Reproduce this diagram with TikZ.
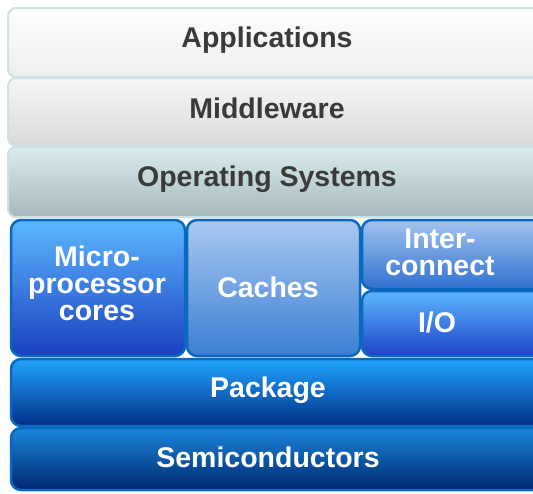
\documentclass[tikz,border=0pt]{standalone}
\usepackage{fontspec}
\setmainfont{Liberation Sans}
\begin{document}
\definecolor{greyborder}{HTML}{CFE0E3}
\definecolor{blueborder}{HTML}{0A68BE}
\definecolor{darktext}{HTML}{3A3A3A}
\begin{tikzpicture}[x=1pt,y=-1pt,
  layer/.style={draw=greyborder,line width=2pt,rounded corners=8pt,inner sep=0pt},
  bluebox/.style={draw=blueborder,line width=2.5pt,rounded corners=10pt,inner sep=0pt},
  label/.style={font=\bfseries\fontsize{28.5}{27}\selectfont,align=center,inner sep=0pt},
  dark/.style={label,text=darktext},
  light/.style={label,text=white}]
\useasboundingbox (0,0) rectangle (533,493);
\clip (0,0) rectangle (533,493);
% top layers
\path[layer,top color=white,bottom color=black!7] (8,8) rectangle (548,77);
\path[layer,top color=black!3,bottom color=black!15] (8,78) rectangle (548,146);
\path[layer,top color={rgb,255:red,216;green,236;blue,238},bottom color={rgb,255:red,166;green,184;blue,187}] (8,147) rectangle (548,217);
% blue layers
\path[bluebox,top color={rgb,255:red,92;green,184;blue,255},bottom color={rgb,255:red,26;green,63;blue,192}] (11,220) rectangle (185,356);
\path[bluebox,top color={rgb,255:red,169;green,201;blue,240},bottom color={rgb,255:red,58;green,126;blue,212}] (187,220) rectangle (360,356);
\path[bluebox,top color={rgb,255:red,162;green,196;blue,238},bottom color={rgb,255:red,48;green,112;blue,208}] (362,220) rectangle (548,289);
\path[bluebox,top color={rgb,255:red,92;green,184;blue,255},bottom color={rgb,255:red,30;green,66;blue,200}] (362,291) rectangle (548,356);
\path[bluebox,top color={rgb,255:red,34;green,164;blue,255},middle color={rgb,255:red,18;green,120;blue,220},bottom color={rgb,255:red,0;green,47;blue,134}] (11,359) rectangle (548,426);
\path[bluebox,top color={rgb,255:red,26;green,134;blue,220},bottom color={rgb,255:red,0;green,38;blue,110}] (11,428) rectangle (548,490);
% texts
\node[dark] (app) at (267,40) {Applications};
\node[dark] (mid) at (267,108) {Middleware};
\node[dark] (os) at (267,179) {Operating Systems};
\node[light] (cpu) at (97,283) {Micro-\\processor\\cores};
\node[light] (cache) at (268,287) {Caches};
\node[light] (ic) at (440,252) {Inter-\\connect};
\node[light] (io) at (437,322) {I/O};
\node[light] (pkg) at (268,390) {Package};
\node[light] (semi) at (268,457) {Semiconductors};
\end{tikzpicture}
\end{document}
